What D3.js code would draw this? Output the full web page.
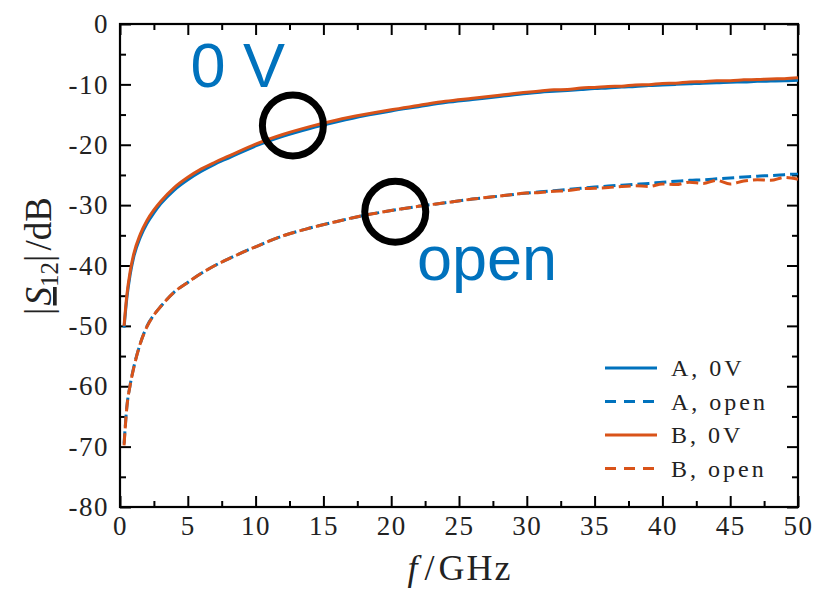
<!DOCTYPE html>
<html>
<head>
<meta charset="utf-8">
<script src="https://cdn.jsdelivr.net/npm/d3@7"></script>
<style>
  body { margin: 0; background: white; }
</style>
</head>
<body>
<div class="viz"></div>
<script>
'use strict'

const width = 813,
  height = 592;
const margin = {top: 24, right: 15, bottom: 85, left: 120};
const blue = '#0072BD',
  orange = '#D95319';
const serif = "'Liberation Serif', 'Times New Roman', serif";

// frequencies in GHz
const freq = [0.3, 0.5, 0.75, 1, 1.5, 2, 2.5, 3, 4, 5,
  6, 7, 8, 10, 12, 14, 16, 18, 20, 22,
  24, 26, 28, 30,
  31, 32, 33, 34, 35, 36, 37, 38, 39, 40,
  41, 42, 43, 44, 45, 46, 47, 48, 49, 50];

// |S12| in dB
const a_0v = [-50.3, -45.5, -41.5, -38.7, -35.3, -33.0, -31.3, -29.8, -27.5, -25.8,
  -24.4, -23.2, -22.2, -20.2, -18.6, -17.3, -16.2, -15.2, -14.4, -13.7,
  -13.0, -12.5, -12.0, -11.5,
  -11.3, -11.15, -11.0, -10.85, -10.7, -10.6, -10.45, -10.35, -10.2, -10.1,
  -10.0, -9.9, -9.8, -9.75, -9.65, -9.6, -9.5, -9.45, -9.4, -9.3];
const a_open = [-69.5, -63.5, -59.8, -57.0, -52.9, -50.0, -48.2, -46.8, -44.4, -42.8,
  -41.3, -40.0, -38.9, -36.9, -35.1, -33.8, -32.7, -31.7, -30.9, -30.2,
  -29.6, -29.0, -28.5, -28.0,
  -27.8, -27.6, -27.4, -27.2, -27.0, -26.85, -26.7, -26.55, -26.4, -26.2,
  -26.05, -25.9, -25.8, -25.65, -25.5, -25.35, -25.2, -25.1, -24.95, -24.8];
const b_0v = [-50.0, -45.0, -41.0, -38.2, -34.8, -32.5, -30.8, -29.4, -27.1, -25.4,
  -24.0, -22.9, -21.9, -19.9, -18.3, -17.0, -15.9, -15.0, -14.2, -13.5,
  -12.8, -12.3, -11.8, -11.3,
  -11.1, -10.9, -10.85, -10.6, -10.5, -10.35, -10.3, -10.1, -10.05, -9.85,
  -9.8, -9.6, -9.55, -9.4, -9.4, -9.25, -9.2, -9.1, -9.05, -8.9];
const b_open = [-69.8, -63.6, -59.8, -57.1, -52.9, -50.1, -48.2, -46.8, -44.4, -42.8,
  -41.3, -40.0, -38.9, -36.9, -35.1, -33.8, -32.7, -31.7, -30.9, -30.2,
  -29.6, -29.0, -28.5, -28.0,
  -27.9, -27.7, -27.6, -27.3, -27.2, -27.1, -26.9, -26.8, -26.9, -26.5,
  -26.6, -26.2, -26.4, -25.9, -26.5, -26.0, -25.8, -25.9, -25.4, -25.7];

const x_ticks = [0, 5, 10, 15, 20, 25, 30, 35, 40, 45, 50];
const y_ticks = [0, -10, -20, -30, -40, -50, -60, -70, -80];
const legend_labels = ['A, 0V', 'A, open', 'B, 0V', 'B, open'];

const dash = '12,5';
const series = [
  {key: legend_labels[0], values: a_0v, color: blue, dash: null},
  {key: legend_labels[1], values: a_open, color: blue, dash: dash},
  {key: legend_labels[2], values: b_0v, color: orange, dash: null},
  {key: legend_labels[3], values: b_open, color: orange, dash: dash}
];

// annotations: [f, dB]
const circles = [[12.75, -16.8], [20.3, -31.1]];
const notes = [{text: '0 V', f: 5.2, db: -10.5}, {text: 'open', f: 21.9, db: -42.4}];

let svg = d3.select('.viz')
  .append('svg')
  .attr('width', width)
  .attr('height', height);

let x = d3.scaleLinear()
  .domain([0, 50])
  .range([margin.left, width - margin.right]);
let y = d3.scaleLinear()
  .domain([-80, 0])
  .range([height - margin.bottom, margin.top]);

let minor_x = d3.range(2.5, 50, 5);
let minor_y = d3.range(-75, 0, 10);

function axis(gen, pos, vals, size, labels) {
  let g = svg.append('g')
    .attr('transform', pos)
    .call(gen.tickValues(vals).tickSize(-size).tickSizeOuter(0)
      .tickPadding(labels === 'x' ? 9 : 11)
      .tickFormat(labels ? d => d : ''))
    .attr('font-family', serif)
    .attr('font-size', 27);
  g.select('.domain').remove();
  g.selectAll('line').attr('stroke', 'black').attr('stroke-width', 2);
  g.selectAll('text')
    .style('letter-spacing', '1.5px')
    .style('fill', '#222');
  return g;
}

// major + minor ticks, all four sides
axis(d3.axisBottom(x), `translate(0,${y(-80)})`, x_ticks, 11, 'x');
axis(d3.axisBottom(x), `translate(0,${y(-80)})`, minor_x, 6, false);
axis(d3.axisTop(x), `translate(0,${y(0)})`, x_ticks, 11, false);
axis(d3.axisTop(x), `translate(0,${y(0)})`, minor_x, 6, false);
axis(d3.axisLeft(y), `translate(${x(0)},0)`, y_ticks, 11, 'y');
axis(d3.axisLeft(y), `translate(${x(0)},0)`, minor_y, 6, false);
axis(d3.axisRight(y), `translate(${x(50)},0)`, y_ticks, 11, false);
axis(d3.axisRight(y), `translate(${x(50)},0)`, minor_y, 6, false);

svg.append('rect')
  .attr('x', x(0))
  .attr('y', y(0))
  .attr('width', x(50) - x(0))
  .attr('height', y(-80) - y(0))
  .attr('fill', 'none')
  .attr('stroke', 'black')
  .attr('stroke-width', 2.2);

// curves
let line = d3.line()
  .x((d, i) => x(freq[i]))
  .y(d => y(d))
  .curve(d3.curveMonotoneX);

svg.append('g')
  .attr('fill', 'none')
  .attr('stroke-width', 3)
  .selectAll('path')
  .data(series)
  .join('path')
  .attr('d', d => line(d.values))
  .attr('stroke', d => d.color)
  .attr('stroke-dasharray', d => d.dash);

// annotations
svg.append('g')
  .selectAll('text')
  .data(notes)
  .join('text')
  .attr('x', d => x(d.f))
  .attr('y', d => y(d.db))
  .style('font-family', "'Liberation Sans', Arial, sans-serif")
  .style('font-size', '63px')
  .style('fill', blue)
  .text(d => d.text);

svg.append('g')
  .selectAll('circle')
  .data(circles)
  .join('circle')
  .attr('cx', d => x(d[0]))
  .attr('cy', d => y(d[1]))
  .attr('r', 30.5)
  .attr('fill', 'none')
  .attr('stroke', 'black')
  .attr('stroke-width', 7);

// legend
let legend = svg.append('g')
  .attr('transform', `translate(605,368)`);
let row = legend.selectAll('g')
  .data(series)
  .join('g')
  .attr('transform', (d, i) => `translate(0,${i * 33.5})`);
row.append('line')
  .attr('x1', 0)
  .attr('x2', 52)
  .attr('stroke', d => d.color)
  .attr('stroke-width', 3)
  .attr('stroke-dasharray', d => d.dash ? '11,8' : null);
row.append('text')
  .attr('x', 66)
  .attr('dy', '0.35em')
  .style('font-family', serif)
  .style('font-size', '24px')
  .style('letter-spacing', '3px')
  .style('fill', '#222')
  .text(d => d.key);

// axis titles
let xt = svg.append('text')
  .attr('x', 460)
  .attr('y', 580)
  .attr('text-anchor', 'middle')
  .style('font-family', serif)
  .style('font-size', '36px')
  .style('fill', '#222');
xt.append('tspan').style('font-style', 'italic').text('f');
xt.append('tspan').attr('dx', 7).text('/');
xt.append('tspan').attr('dx', 4).style('letter-spacing', '2px').text('GHz');

let yt = svg.append('text')
  .attr('transform', 'translate(51,256) rotate(-90)')
  .attr('text-anchor', 'middle')
  .style('font-family', serif)
  .style('font-size', '37px')
  .style('fill', '#222');
yt.append('tspan').text('|');
yt.append('tspan').attr('dx', 2).style('font-style', 'italic')
  .style('text-decoration', 'underline').text('S');
yt.append('tspan').attr('dy', 7).style('font-size', '25px').text('12');
yt.append('tspan').attr('dy', -7).text('|');
yt.append('tspan').attr('dx', 4).text('/dB');
</script>
</body>
</html>
